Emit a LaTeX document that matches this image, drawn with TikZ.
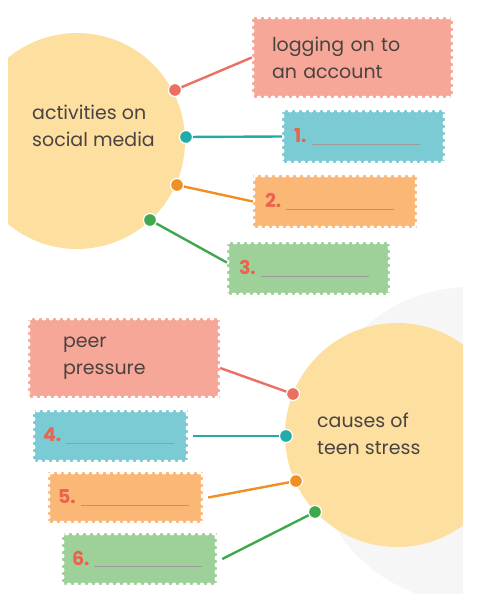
\documentclass[tikz,border=0pt]{standalone}
\usepackage{fontspec}
\setmainfont{Poppins}
\usepackage{tikz}
\usetikzlibrary{positioning,calc}
\usepackage{xcolor}
\definecolor{fhub}{HTML}{FDDFA0}
\definecolor{fshade}{HTML}{F6F6F6}
\definecolor{ftext}{HTML}{4A4341}
\definecolor{fnum}{HTML}{E9634D}
\definecolor{fline}{HTML}{9C9C9C}
\definecolor{fredbox}{HTML}{F6A797}
\definecolor{fred}{HTML}{EC7062}
\definecolor{ftealbox}{HTML}{7ACBD3}
\definecolor{fteal}{HTML}{22ABA8}
\definecolor{forangebox}{HTML}{FBB776}
\definecolor{forange}{HTML}{F08F22}
\definecolor{fgreenbox}{HTML}{9DD199}
\definecolor{fgreen}{HTML}{3FA84E}
\tikzset{
  stamp/.style   = {rectangle, fill=#1, inner xsep=10pt, inner ysep=0pt, align=left,
                    postaction={draw=white, line width=5pt, line cap=round,
                                dash pattern=on 0pt off 7pt}},
  knob/.style    = {circle, fill=#1, draw=white, line width=1.2pt, inner sep=0pt,
                    minimum size=13pt},
  link/.style    = {draw=#1, line width=2.4pt},
  hubtext/.style = {align=left, inner sep=0pt},
}
\newcommand{\answer}[1]{{\bfseries\color{fnum}#1}\hspace{5pt}{\color{fline}\rule[-2pt]{108pt}{0.8pt}}}

\begin{document}
\begin{tikzpicture}[x=1pt,y=-1pt,font=\fontsize{19}{27}\selectfont,text=ftext]
\useasboundingbox (0,0) rectangle (486,594);
% hubs
\begin{scope}
\clip (0,280) rectangle (463,594);
\fill[fshade] (470,445) circle[radius=158];
\fill[fhub] (397,435) circle[radius=112];
\end{scope}
\begin{scope}
\clip (8,0) rectangle (486,300);
\fill[fhub] (77,141) circle[radius=108];
\end{scope}
\node[hubtext, anchor=west] (hub1) at (32,126) {activities on\\social media};
\node[hubtext, anchor=west] (hub2) at (317,434) {causes of\\teen stress};
% top group
\node[knob=fred]    (k1) at (175,90) {};
\node[knob=fteal]   (k2) at (186,137) {};
\node[knob=forange] (k3) at (177,185) {};
\node[knob=fgreen]  (k4) at (150,220) {};
\node[stamp=fredbox, minimum height=81pt, text width=161pt, inner xsep=20pt] (acc) at (352.5,57.5) {logging on to\\an account};
\node[stamp=ftealbox, minimum height=53pt, text width=139pt, inner xsep=12pt] (a1) at (363.5,136.5) {\answer{1.}};
\node[stamp=forangebox, minimum height=53pt, text width=140pt, inner xsep=12pt] (a2) at (335,201.5) {\answer{2.}};
\node[stamp=fgreenbox, minimum height=53pt, text width=139pt, inner xsep=12pt] (a3) at (308.5,268.5) {\answer{3.}};
\draw[link=fred] (k1) -- (acc.west);
\draw[link=fteal] (k2) -- (a1.west);
\draw[link=forange] (k3) -- (a2.west);
\draw[link=fgreen] (k4) -- ([yshift=6pt]a3.west);
% bottom group
\node[knob=fred]    (k5) at (293,394) {};
\node[knob=fteal]   (k6) at (286,436) {};
\node[knob=forange] (k7) at (296,481) {};
\node[knob=fgreen]  (k8) at (315,512) {};
\node[stamp=fredbox, minimum height=80pt, text width=122pt, inner xsep=35pt] (peer) at (124,358) {peer\\pressure};
\node[stamp=ftealbox, minimum height=52pt, text width=135pt] (a4) at (110.5,436) {\answer{4.}};
\node[stamp=forangebox, minimum height=51pt, text width=135pt] (a5) at (125.5,497.5) {\answer{5.}};
\node[stamp=fgreenbox, minimum height=52pt, text width=135pt] (a6) at (139.5,559) {\answer{6.}};
\draw[link=fred] (k5) -- ([yshift=-10pt]peer.east);
\draw[link=fteal] (k6) -- ([xshift=5pt]a4.east);
\draw[link=forange] (k7) -- ([xshift=5pt]a5.east);
\draw[link=fgreen] (k8) -- ([xshift=5pt]a6.east);
\end{tikzpicture}
\end{document}
